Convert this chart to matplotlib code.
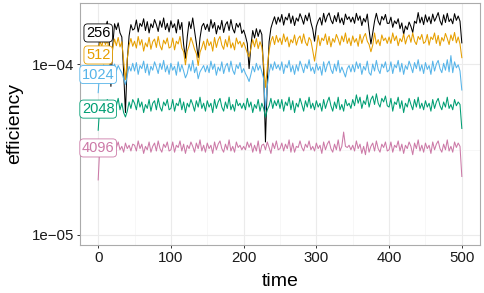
import matplotlib
matplotlib.use('Agg')
import matplotlib.pyplot as plt
import numpy as np
from matplotlib.ticker import FixedLocator, NullFormatter

plt.rcParams['font.family'] = ['Liberation Sans', 'DejaVu Sans']

# efficiency values in units of 1e-5, one value every 2.5 time steps (t = 0 ... 500)
eff_256 = [
    11.0, 15.4, 16.6, 14.6, 16.3, 17.8, 14.2, 7.4, 12.8, 17.2, 15.9, 17.4, 15.2, 14.4, 9.0, 5.2, 10.5, 14.6, 17.0, 15.8,
    16.1, 18.1, 15.4, 17.3, 16.6, 18.4, 15.7, 17.7, 15.2, 17.2, 16.3, 18.2, 17.0, 15.5, 17.9, 16.4, 18.6, 15.9, 17.3, 15.4,
    17.9, 16.3, 17.2, 15.2, 18.2, 15.9, 17.5, 13.0, 10.8, 14.4, 17.7, 16.1, 18.6, 15.7, 13.2, 10.9, 14.2, 16.6, 17.3, 15.9,
    17.1, 15.5, 18.2, 16.2, 17.5, 15.0, 16.8, 15.9, 18.0, 15.3, 17.0, 17.7, 15.7, 18.2, 16.1, 15.2, 17.3, 16.4, 17.4, 15.1,
    15.8, 14.6, 13.2, 9.4, 12.8, 15.7, 14.2, 16.1, 14.5, 15.9, 14.9, 9.0, 3.5, 7.8, 13.5, 16.2, 17.6, 18.9, 17.1, 18.8,
    17.6, 19.5, 16.9, 18.8, 18.1, 19.8, 17.3, 19.1, 16.8, 18.6, 17.8, 19.7, 18.5, 17.1, 19.3, 17.9, 19.9, 17.5, 16.0, 13.6,
    16.6, 17.9, 18.7, 16.9, 19.8, 17.6, 19.1, 19.9, 18.1, 17.2, 19.2, 17.7, 20.0, 17.4, 18.6, 17.0, 19.6, 18.2, 18.9, 17.6,
    18.8, 17.3, 19.8, 18.0, 19.1, 16.8, 18.5, 17.6, 19.6, 15.8, 13.1, 15.2, 17.8, 19.8, 17.8, 16.9, 19.0, 18.1, 19.5, 17.3,
    17.3, 18.8, 16.4, 17.9, 17.2, 18.4, 16.1, 17.4, 14.9, 16.7, 15.9, 17.6, 16.6, 15.3, 17.8, 17.3, 20.0, 17.4, 18.8, 17.0,
    19.4, 17.6, 18.9, 17.2, 19.6, 17.8, 18.8, 20.0, 17.9, 16.9, 19.4, 17.5, 19.8, 17.7, 18.4, 17.2, 19.7, 18.0, 19.1, 17.8,
    13.3]
eff_512 = [
    11.0, 13.6, 12.7, 14.1, 13.0, 13.8, 12.1, 10.2, 12.4, 14.0, 12.8, 14.3, 12.6, 13.5, 10.5, 8.1, 10.8, 12.9, 14.1, 12.7,
    13.6, 12.4, 14.5, 12.9, 13.9, 11.9, 13.3, 12.6, 14.3, 12.2, 13.5, 14.0, 12.5, 14.5, 12.8, 12.1, 13.8, 13.1, 14.2, 12.4,
    12.6, 14.2, 12.1, 13.6, 13.1, 14.5, 12.4, 11.8, 9.9, 11.9, 12.8, 14.3, 13.3, 12.2, 11.5, 9.8, 11.7, 12.5, 13.6, 12.1,
    14.0, 12.8, 13.5, 11.9, 14.3, 12.5, 13.8, 14.5, 12.9, 12.2, 13.9, 12.6, 14.6, 12.4, 13.3, 12.1, 14.2, 13.1, 13.6, 12.5,
    13.4, 12.5, 11.6, 11.0, 12.4, 13.9, 12.6, 14.1, 12.3, 13.5, 12.6, 10.0, 7.3, 9.5, 12.0, 13.6, 14.5, 13.0, 14.7, 13.4,
    14.2, 13.0, 15.0, 13.5, 14.4, 12.6, 13.9, 13.3, 14.8, 12.9, 14.1, 14.6, 13.2, 15.0, 13.4, 12.8, 14.3, 13.7, 12.0, 10.4,
    12.2, 14.7, 12.8, 14.2, 13.7, 15.0, 13.0, 14.5, 12.6, 14.1, 13.4, 14.9, 14.0, 12.9, 14.6, 13.5, 15.2, 13.2, 14.2, 12.8,
    14.6, 13.4, 14.1, 12.7, 14.9, 13.2, 14.4, 15.1, 13.6, 13.0, 11.8, 12.9, 15.2, 13.1, 13.9, 12.8, 14.8, 13.7, 14.2, 13.2,
    14.4, 13.2, 15.2, 13.7, 14.6, 12.8, 14.1, 13.5, 15.0, 13.1, 14.3, 14.8, 13.4, 15.2, 13.6, 13.0, 14.5, 13.9, 14.9, 13.2,
    13.5, 14.9, 12.9, 14.4, 13.9, 15.2, 13.2, 14.7, 12.8, 14.3, 13.6, 15.1, 14.1, 13.0, 14.8, 13.7, 15.3, 13.3, 14.4, 13.1,
    10.9]
eff_1024 = [
    6.8, 9.6, 9.0, 9.9, 9.2, 9.7, 8.9, 8.5, 9.4, 10.0, 9.1, 9.8, 9.3, 8.9, 8.2, 7.6, 8.6, 9.7, 9.1, 10.1,
    9.1, 10.2, 8.7, 9.8, 9.4, 10.4, 8.9, 10.0, 8.6, 9.7, 9.2, 10.3, 9.6, 8.8, 10.1, 9.3, 10.5, 9.0, 9.8, 8.7,
    10.1, 9.2, 9.7, 8.6, 10.3, 9.0, 9.9, 9.1, 8.3, 8.8, 10.0, 9.1, 10.5, 8.9, 9.6, 8.2, 9.0, 9.4, 9.8, 9.0,
    9.8, 8.9, 10.4, 9.3, 10.0, 8.6, 9.6, 9.1, 10.3, 8.8, 9.7, 10.1, 9.0, 10.4, 9.2, 8.7, 9.9, 9.4, 10.2, 8.9,
    9.4, 8.8, 8.4, 7.9, 8.7, 9.7, 9.0, 10.1, 9.2, 9.8, 9.0, 8.2, 5.4, 7.4, 8.9, 10.0, 9.2, 10.3, 9.4, 9.9,
    9.2, 10.3, 8.8, 9.9, 9.5, 10.5, 9.0, 9.8, 8.7, 9.9, 9.1, 10.4, 9.7, 8.9, 10.0, 9.4, 10.6, 9.1, 9.6, 8.8,
    10.1, 9.2, 9.7, 8.6, 10.3, 9.0, 9.9, 10.4, 9.3, 8.8, 10.0, 9.1, 10.5, 8.9, 9.6, 9.0, 8.4, 9.4, 9.8, 9.0,
    9.9, 9.0, 10.3, 9.4, 10.1, 8.7, 9.7, 9.2, 10.4, 8.9, 8.6, 10.0, 9.1, 10.5, 9.3, 8.8, 10.0, 9.5, 10.3, 9.0,
    9.2, 10.3, 8.8, 9.9, 9.5, 10.5, 9.0, 10.1, 8.7, 9.8, 9.3, 10.4, 9.7, 8.9, 10.2, 9.4, 10.6, 9.1, 9.9, 8.8,
    10.2, 9.3, 9.8, 8.7, 10.4, 9.1, 10.0, 10.5, 9.4, 8.9, 10.1, 9.2, 10.6, 9.0, 11.2, 8.9, 10.3, 9.5, 9.9, 9.1,
    7.05]
eff_2048 = [
    4.1, 5.9, 5.4, 6.1, 5.6, 6.2, 5.3, 5.8, 5.5, 6.1, 5.7, 6.3, 5.4, 5.9, 5.2, 4.9, 5.3, 6.0, 5.5, 6.2,
    5.9, 5.4, 6.3, 5.6, 6.0, 5.2, 5.8, 5.5, 6.2, 5.3, 5.9, 6.1, 5.4, 6.3, 5.6, 5.3, 6.0, 5.7, 6.2, 5.4,
    5.5, 6.2, 5.3, 5.9, 5.7, 6.3, 5.4, 6.0, 5.2, 5.9, 5.6, 6.2, 5.8, 5.3, 6.1, 5.6, 6.4, 5.5, 5.9, 5.3,
    6.1, 5.6, 5.9, 5.2, 6.2, 5.5, 6.0, 6.3, 5.6, 5.3, 6.0, 5.5, 6.4, 5.4, 5.8, 5.3, 6.2, 5.7, 5.9, 5.5,
    5.9, 5.4, 6.3, 5.6, 6.0, 5.2, 5.8, 5.5, 6.2, 5.3, 5.9, 5.5, 4.9, 5.4, 5.7, 6.3, 5.5, 6.1, 5.7, 6.2,
    5.5, 6.2, 5.3, 6.0, 5.7, 6.4, 5.4, 6.1, 5.2, 5.9, 5.6, 6.3, 5.8, 5.3, 6.1, 5.6, 6.4, 5.5, 5.9, 5.4,
    6.1, 5.6, 5.9, 5.3, 6.2, 5.5, 6.0, 6.4, 5.7, 5.3, 6.0, 5.5, 6.4, 5.4, 5.8, 5.3, 6.2, 5.7, 5.9, 5.5,
    6.2, 5.7, 6.6, 5.9, 6.4, 5.5, 6.1, 5.8, 6.6, 5.6, 6.2, 6.5, 5.8, 6.7, 5.9, 5.6, 6.3, 6.0, 6.5, 5.7,
    5.6, 6.3, 5.3, 6.0, 5.8, 6.4, 5.5, 6.1, 5.2, 5.9, 5.6, 6.3, 5.8, 5.4, 6.2, 5.6, 6.4, 5.5, 5.9, 5.4,
    6.1, 5.6, 5.9, 5.3, 6.2, 5.5, 6.0, 6.3, 5.7, 5.4, 6.0, 5.6, 6.4, 5.5, 5.8, 5.4, 6.2, 5.7, 6.0, 5.8,
    4.2]
eff_4096 = [
    2.1, 3.45, 3.2, 3.4, 3.1, 3.5, 3.15, 3.35, 3.05, 3.4, 3.25, 3.5, 3.15, 3.3, 3.05, 3.45, 3.2, 3.35, 3.1, 3.4,
    3.35, 3.1, 3.55, 3.2, 3.4, 3.0, 3.3, 3.15, 3.5, 3.05, 3.3, 3.45, 3.1, 3.55, 3.2, 3.05, 3.4, 3.25, 3.5, 3.1,
    3.15, 3.5, 3.05, 3.35, 3.25, 3.55, 3.1, 3.4, 3.0, 3.35, 3.2, 3.5, 3.3, 3.05, 3.45, 3.2, 3.6, 3.1, 3.35, 3.05,
    3.45, 3.2, 3.35, 3.0, 3.5, 3.15, 3.4, 3.55, 3.2, 3.05, 3.4, 3.15, 3.6, 3.1, 3.3, 3.05, 3.5, 3.25, 3.35, 3.15,
    3.3, 3.15, 3.5, 3.25, 3.45, 3.05, 3.35, 3.1, 3.55, 3.0, 3.35, 3.4, 3.15, 3.5, 3.25, 3.0, 3.45, 3.2, 3.55, 3.15,
    3.2, 3.45, 3.1, 3.4, 3.2, 3.6, 3.05, 3.45, 3.05, 3.3, 3.25, 3.55, 3.25, 3.1, 3.4, 3.25, 3.55, 3.15, 3.3, 3.1,
    3.45, 3.2, 3.35, 3.0, 3.5, 3.15, 3.4, 3.55, 3.2, 3.05, 3.4, 3.15, 3.6, 3.1, 3.3, 4.0, 3.3, 3.25, 3.35, 3.15,
    3.35, 3.1, 3.55, 3.2, 3.4, 3.0, 3.3, 2.95, 3.5, 3.05, 3.3, 3.45, 3.1, 3.55, 3.2, 3.05, 3.4, 3.25, 3.5, 3.1,
    3.15, 3.5, 3.05, 3.35, 3.25, 3.55, 3.1, 3.4, 3.0, 3.35, 3.2, 3.5, 3.3, 2.95, 3.45, 3.2, 3.6, 3.1, 3.35, 3.05,
    3.45, 3.2, 3.35, 3.0, 3.5, 3.15, 3.4, 3.55, 3.2, 3.05, 3.4, 3.15, 3.6, 3.1, 3.3, 3.05, 3.5, 3.25, 3.45, 3.3,
    2.2]

series_names = ['256', '512', '1024', '2048', '4096']
series_values = [eff_256, eff_512, eff_1024, eff_2048, eff_4096]
# where the label boxes sit (efficiency, 1e-5 units, at t = 0)
label_levels = [15.2, 11.3, 8.68, 5.45, 3.23]
COLORS = ['#000000', '#E69F00', '#56B4E9', '#009E73', '#CC79A7']

time = np.arange(0, 500.1, 2.5)

fig = plt.figure(figsize=(4.85, 2.93), dpi=100)
ax = fig.add_axes([80 / 485, 48 / 293, 400 / 485, 242 / 293])

for name, vals, c in zip(series_names, series_values, COLORS):
    assert len(vals) == len(time), name
    ax.plot(time, np.array(vals) * 1e-5, color=c, linewidth=0.75, zorder=3)

for name, lev, c in zip(series_names, label_levels, COLORS):
    ax.text(0, lev * 1e-5, name, ha='center', va='center', color=c, fontsize=10.5,
            bbox=dict(boxstyle='round,pad=0.14,rounding_size=0.25', fc='white', ec=c, lw=0.6),
            zorder=5)

ax.set_yscale('log')
ax.set_xlim(-25, 525)
ax.set_ylim(10 ** -5.0585, 10 ** -3.643)

ax.xaxis.set_major_locator(FixedLocator([0, 100, 200, 300, 400, 500]))
ax.xaxis.set_minor_locator(FixedLocator([50, 150, 250, 350, 450]))
ax.yaxis.set_major_locator(FixedLocator([1e-5, 1e-4]))
ax.yaxis.set_minor_locator(FixedLocator([10 ** -4.5]))
ax.yaxis.set_minor_formatter(NullFormatter())
ax.set_yticklabels(['1e\u221205', '1e\u221204'])

ax.grid(True, which='major', color='#EBEBEB', linewidth=0.8)
ax.grid(True, which='minor', color='#F4F4F4', linewidth=0.5)
ax.set_axisbelow(True)

ax.tick_params(axis='both', which='major', length=2.5, width=0.7, color='#333333',
               labelsize=10.8, labelcolor='#1A1A1A', pad=1.5)
ax.tick_params(axis='both', which='minor', length=0)

for sp in ax.spines.values():
    sp.set_color('#ABABAB')
    sp.set_linewidth(0.8)

ax.set_xlabel('time', fontsize=14, va='center')
ax.set_ylabel('efficiency', fontsize=14, va='center')
ax.xaxis.set_label_coords(0.5, (245 - 281) / 242)
ax.yaxis.set_label_coords((15 - 80) / 400, 0.5)

fig.savefig('out.png', dpi=100)
